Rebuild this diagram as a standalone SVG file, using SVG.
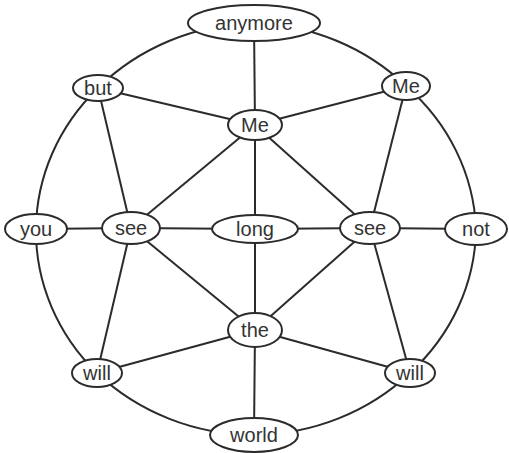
<svg xmlns="http://www.w3.org/2000/svg" width="509" height="453" viewBox="0 0 509 453">
<style>
.n ellipse{fill:#fff;stroke:#2b2b2b;stroke-width:2}
.n text{font-family:"Liberation Sans",Arial,sans-serif;font-size:20px;fill:#333;text-anchor:middle}
#edges path,#edges line{fill:none;stroke:#2b2b2b;stroke-width:2}
</style>
<rect width="509" height="453" fill="#fff"/>
<g id="edges">
<path d="M254 23 A222 206 0 0 1 406 86"/>
<path d="M406 86 A222 206 0 0 1 476 229"/>
<path d="M476 229 A222 206 0 0 1 410 373"/>
<path d="M410 373 A222 206 0 0 1 254 435"/>
<path d="M254 435 A222 206 0 0 1 97 373"/>
<path d="M97 373 A222 206 0 0 1 36 229"/>
<path d="M36 229 A222 206 0 0 1 98 88"/>
<path d="M98 88 A222 206 0 0 1 254 23"/>
<line x1="254" y1="23" x2="255" y2="125"/>
<line x1="98" y1="88" x2="255" y2="125"/>
<line x1="406" y1="86" x2="255" y2="125"/>
<line x1="98" y1="88" x2="131" y2="228"/>
<line x1="406" y1="86" x2="370" y2="228"/>
<line x1="255" y1="125" x2="131" y2="228"/>
<line x1="255" y1="125" x2="370" y2="228"/>
<line x1="255" y1="125" x2="255" y2="229"/>
<line x1="36" y1="229" x2="131" y2="228"/>
<line x1="131" y1="228" x2="255" y2="229"/>
<line x1="255" y1="229" x2="370" y2="228"/>
<line x1="370" y1="228" x2="476" y2="229"/>
<line x1="131" y1="228" x2="255" y2="330"/>
<line x1="370" y1="228" x2="255" y2="330"/>
<line x1="255" y1="229" x2="255" y2="330"/>
<line x1="131" y1="228" x2="97" y2="373"/>
<line x1="370" y1="228" x2="410" y2="373"/>
<line x1="255" y1="330" x2="97" y2="373"/>
<line x1="255" y1="330" x2="410" y2="373"/>
<line x1="255" y1="330" x2="254" y2="435"/>
</g>
<g id="anymore" class="n"><ellipse cx="254" cy="23" rx="66" ry="18"/><text x="254" y="30">anymore</text></g>
<g id="but" class="n"><ellipse cx="98" cy="88" rx="25" ry="13"/><text x="98" y="95">but</text></g>
<g id="me-right" class="n"><ellipse cx="406" cy="86" rx="24" ry="14"/><text x="406" y="93">Me</text></g>
<g id="me-center" class="n"><ellipse cx="255" cy="125" rx="27" ry="15"/><text x="255" y="132">Me</text></g>
<g id="you" class="n"><ellipse cx="36" cy="229" rx="31" ry="15"/><text x="36" y="236">you</text></g>
<g id="see-left" class="n"><ellipse cx="131" cy="228" rx="29" ry="16"/><text x="131" y="235">see</text></g>
<g id="long" class="n"><ellipse cx="255" cy="229" rx="43" ry="14"/><text x="255" y="236">long</text></g>
<g id="see-right" class="n"><ellipse cx="370" cy="228" rx="30" ry="16"/><text x="370" y="235">see</text></g>
<g id="not" class="n"><ellipse cx="476" cy="229" rx="31" ry="16"/><text x="476" y="236">not</text></g>
<g id="the" class="n"><ellipse cx="255" cy="330" rx="27" ry="17"/><text x="255" y="337">the</text></g>
<g id="will-left" class="n"><ellipse cx="97" cy="373" rx="25" ry="14"/><text x="97" y="380">will</text></g>
<g id="will-right" class="n"><ellipse cx="410" cy="373" rx="25" ry="14"/><text x="410" y="380">will</text></g>
<g id="world" class="n"><ellipse cx="254" cy="435" rx="44" ry="17"/><text x="254" y="442">world</text></g>
</svg>
